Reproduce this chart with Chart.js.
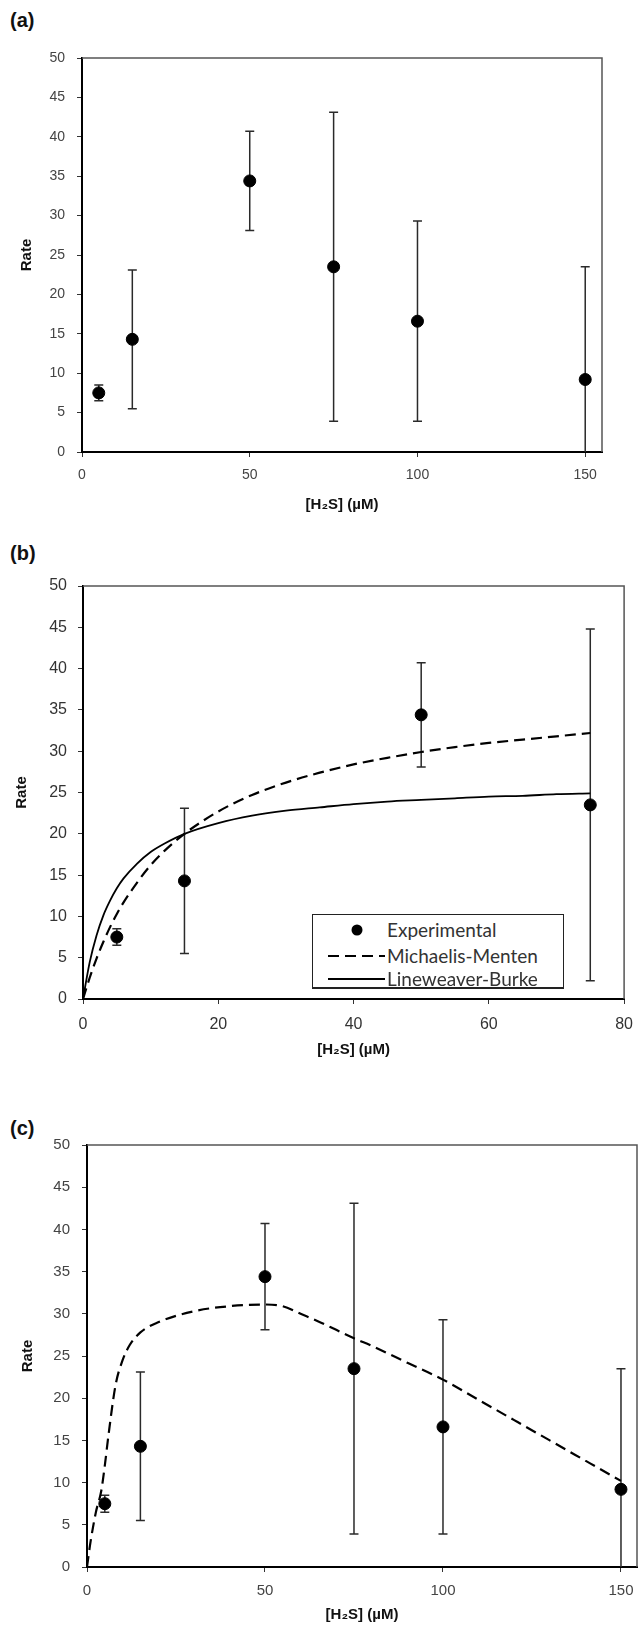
<!DOCTYPE html>
<html>
<head>
<meta charset="utf-8">
<script src="https://cdn.jsdelivr.net/npm/chart.js@4.4.1/dist/chart.umd.min.js"></script>
<style>
  body { margin: 0; background: #fff; }
  #wrap { position: relative; width: 644px; height: 1635px; font-family: 'Liberation Sans', Arial, sans-serif; }
  canvas { position: absolute; left: 0; }
  .panel { position: absolute; font-weight: bold; font-size: 20px; color: #111; }
  #legendB {
    position: absolute; left: 312px; top: 914px; width: 250px; height: 73px;
    border: 1.5px solid #222; background: #fff; overflow: visible;
    font-family: Lato, 'Open Sans', sans-serif; font-size: 19px; color: #333;
  }
  #legendB .row { position: absolute; left: 0; height: 22px; line-height: 22px; }
  #legendB svg { position: absolute; left: 14px; top: 1px; }
  #legendB span { position: absolute; left: 74px; white-space: nowrap; }
  #legendB .cut { position: absolute; left: 0; top: 72px; width: 250px; height: 1.5px; background: #222; }
</style>
</head>
<body>
<div id="wrap">
  <div class="panel" style="left:10px; top:9px;">(a)</div>
  <canvas id="chartA" width="644" height="525" style="top:0px"></canvas>

  <div class="panel" style="left:10px; top:542px;">(b)</div>
  <canvas id="chartB" width="644" height="545" style="top:525px"></canvas>
  <div id="legendB">
    <div class="row" style="top:4px">
      <svg width="60" height="20"><circle cx="30" cy="10" r="5.5" fill="#000"/></svg>
      <span>Experimental</span>
    </div>
    <div class="row" style="top:30px">
      <svg width="60" height="20"><line x1="1" y1="10" x2="58" y2="10" stroke="#000" stroke-width="2.2" stroke-dasharray="11 6"/></svg>
      <span>Michaelis-Menten</span>
    </div>
    <div class="row" style="top:53px">
      <svg width="60" height="20"><line x1="1" y1="10" x2="58" y2="10" stroke="#000" stroke-width="1.8"/></svg>
      <span>Lineweaver-Burke</span>
    </div>
    <div class="cut"></div>
  </div>

  <div class="panel" style="left:10px; top:1117px;">(c)</div>
  <canvas id="chartC" width="644" height="565" style="top:1070px"></canvas>
</div>

<script>
const concAll = [5, 15, 50, 75, 100, 150];
const rateAll = [7.5, 14.3, 34.4, 23.5, 16.6, 9.2];
const errAll = [1.0, 8.8, 6.3, 19.6, 12.7, 14.3];

const concB = [5, 15, 50, 75];
const rateB = [7.5, 14.3, 34.4, 23.5];
const errB = [1.0, 8.8, 6.3, 21.3];

// fitted curves in (b)
const fitX = [0, 1, 2, 3, 4, 5, 6, 8, 10, 12, 15, 20, 25, 30, 35, 40, 45, 50, 55, 60, 65, 70, 75];
const mmY = [0, 2.6, 4.9, 6.9, 8.7, 10.3, 11.7, 14.1, 16.2, 17.9, 20.0, 22.7, 24.7, 26.2, 27.4, 28.4, 29.2, 29.9, 30.5, 31.0, 31.4, 31.8, 32.2];
const lbY = [0, 4.5, 7.7, 10.1, 11.9, 13.4, 14.6, 16.4, 17.8, 18.8, 20.0, 21.3, 22.2, 22.8, 23.2, 23.6, 23.9, 24.1, 24.3, 24.5, 24.6, 24.8, 24.9];

// substrate inhibition curve in (c)
const inhX = [0, 1, 2.5, 4, 5, 6, 8, 10, 12, 15, 20, 30, 40, 50, 55, 60, 65, 70, 75, 80, 90, 100, 110, 120, 130, 140, 150];
const inhY = [0, 3.0, 6.5, 9.0, 12.0, 15.5, 21.5, 24.5, 26.3, 27.8, 29.0, 30.3, 30.9, 31.1, 30.9, 30.0, 29.1, 28.1, 27.1, 26.2, 24.2, 22.2, 19.8, 17.4, 15.0, 12.6, 10.2];

const yTicks = [0, 5, 10, 15, 20, 25, 30, 35, 40, 45, 50];

const toPts = (xs, ys) => xs.map((x, i) => ({ x: x, y: ys[i] }));

// draws vertical error bars with caps, behind the markers
const errorBarPlugin = {
  id: 'errorBars',
  beforeDatasetsDraw(chart) {
    const { ctx, chartArea, scales } = chart;
    ctx.save();
    ctx.beginPath();
    ctx.rect(chartArea.left - 10, chartArea.top - 10, chartArea.right - chartArea.left + 20, chartArea.bottom - chartArea.top + 10);
    ctx.clip();
    ctx.strokeStyle = '#2a2a2a';
    ctx.lineWidth = 1.5;
    chart.data.datasets.forEach(ds => {
      if (!ds.errorBars) return;
      ds.data.forEach((p, i) => {
        const e = ds.errorBars[i];
        const px = scales.x.getPixelForValue(p.x);
        const top = scales.y.getPixelForValue(p.y + e);
        const low = p.y - e;
        const bot = scales.y.getPixelForValue(Math.max(0, low));
        ctx.beginPath();
        ctx.moveTo(px, top);
        ctx.lineTo(px, bot);
        ctx.moveTo(px - 4.5, top);
        ctx.lineTo(px + 4.5, top);
        if (low > 0) {
          ctx.moveTo(px - 4.5, bot);
          ctx.lineTo(px + 4.5, bot);
        }
        ctx.stroke();
      });
    });
    ctx.restore();
  }
};

// thin grey frame on top and right
const framePlugin = {
  id: 'frame',
  afterDraw(chart) {
    const { ctx, chartArea: a } = chart;
    ctx.save();
    ctx.strokeStyle = '#555';
    ctx.lineWidth = 1.5;
    ctx.beginPath();
    ctx.moveTo(a.left, a.top);
    ctx.lineTo(a.right, a.top);
    ctx.lineTo(a.right, a.bottom);
    ctx.stroke();
    ctx.restore();
  }
};

function makeChart(id, box, xMax, xStep, tickFont, datasets) {
  const canvas = document.getElementById(id);
  const W = canvas.width, H = canvas.height;
  return new Chart(canvas.getContext('2d'), {
    type: 'scatter',
    data: { datasets: datasets },
    options: {
      responsive: false,
      animation: false,
      layout: { padding: { top: box.top, right: W - box.right, left: 0, bottom: 0 } },
      plugins: { legend: { display: false }, tooltip: { enabled: false } },
      scales: {
        x: {
          type: 'linear',
          min: 0,
          max: xMax,
          afterFit: s => { s.height = H - box.bottom; },
          border: { display: true, color: '#000', width: 2 },
          grid: { drawOnChartArea: false, drawTicks: true, tickLength: 5, color: '#333' },
          ticks: {
            stepSize: xStep, includeBounds: false, padding: box.xPad,
            color: tickFont.color, font: { family: "'Liberation Sans', Arial, sans-serif", size: tickFont.size }
          },
          title: {
            display: true, text: '[H\u2082S] (\u00b5M)', color: '#111',
            font: { family: "'Liberation Sans', Arial, sans-serif", size: 15, weight: 'bold' },
            padding: { top: 0, bottom: 11 }
          }
        },
        y: {
          type: 'linear',
          min: 0,
          max: 50,
          afterFit: s => { s.width = box.left; },
          afterBuildTicks: s => { s.ticks = yTicks.map(v => ({ value: v })); },
          border: { display: true, color: '#000', width: 2 },
          grid: { drawOnChartArea: false, drawTicks: true, tickLength: 5, color: '#333' },
          ticks: {
            padding: box.yPad,
            color: tickFont.color, font: { family: "'Liberation Sans', Arial, sans-serif", size: tickFont.size }
          },
          title: {
            display: true, text: 'Rate', color: '#111',
            font: { family: "'Liberation Sans', Arial, sans-serif", size: 15, weight: 'bold' },
            padding: { top: box.titleLeft, bottom: 0 }
          }
        }
      }
    },
    plugins: [errorBarPlugin, framePlugin]
  });
}

function expSet(xs, ys, es) {
  return {
    label: 'Experimental',
    data: toPts(xs, ys),
    errorBars: es,
    pointRadius: 6,
    pointBackgroundColor: '#000',
    pointBorderColor: '#000',
    showLine: false,
    order: 0
  };
}

function curveSet(label, xs, ys, dash, width) {
  return {
    label: label,
    data: toPts(xs, ys),
    showLine: true,
    borderColor: '#000',
    borderWidth: width,
    borderDash: dash,
    pointRadius: 0,
    cubicInterpolationMode: 'monotone',
    fill: false,
    order: 1
  };
}

document.addEventListener('DOMContentLoaded', function () {
  // (a)
  makeChart('chartA', { left: 82, right: 602, top: 58, bottom: 452, xPad: 10, yPad: 12, titleLeft: 18 },
    155, 50, { size: 14, color: '#444' },
    [expSet(concAll, rateAll, errAll)]);

  // (b)
  makeChart('chartB', { left: 83, right: 627, top: 61, bottom: 474, xPad: 11, yPad: 11, titleLeft: 13 },
    80, 20, { size: 16, color: '#333' },
    [
      expSet(concB, rateB, errB),
      curveSet('Michaelis-Menten', fitX, mmY, [11, 6], 2.2),
      curveSet('Lineweaver-Burke', fitX, lbY, [], 1.8)
    ]);

  // (c)
  makeChart('chartC', { left: 87, right: 641, top: 75, bottom: 497, xPad: 10, yPad: 12, titleLeft: 19 },
    154.5, 50, { size: 15, color: '#444' },
    [
      expSet(concAll, rateAll, errAll),
      curveSet('Substrate inhibition', inhX, inhY, [11, 6], 2.2)
    ]);
});
</script>
</body>
</html>
